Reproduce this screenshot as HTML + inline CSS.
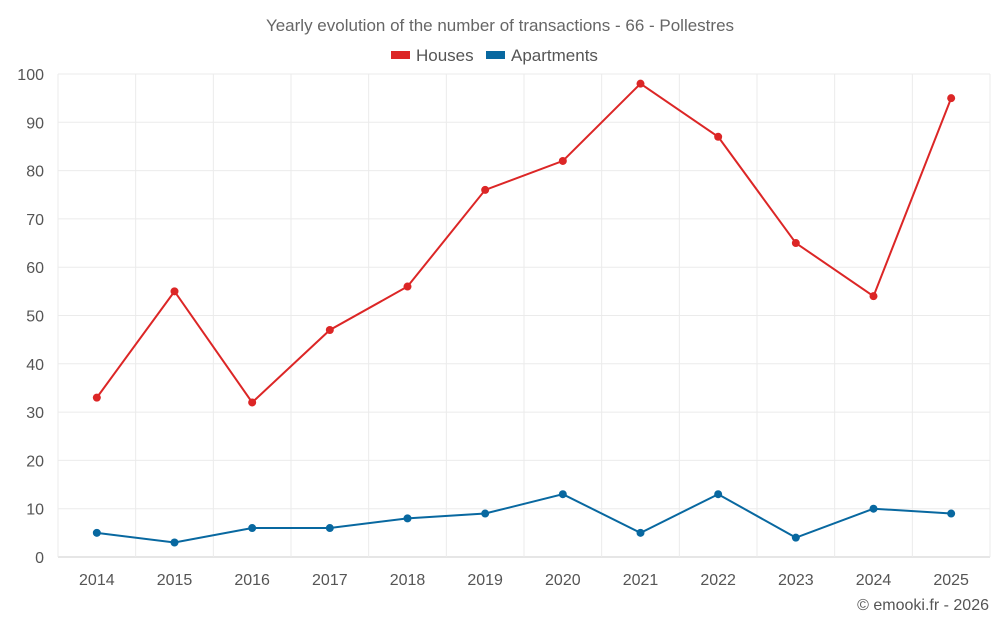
<!DOCTYPE html>
<html><head><meta charset="utf-8"><style>
body{margin:0;background:#fff;font-family:"Liberation Sans",sans-serif;}
svg{display:block}
</style></head><body>
<svg id="chart" width="1000" height="625">
<text x="500" y="31" text-anchor="middle" font-size="17" fill="#666">Yearly evolution of the number of transactions - 66 - Pollestres</text>
<g>
<rect x="391" y="51" width="19" height="8" fill="#dc2626"/>
<text x="416" y="61" font-size="17" fill="#555">Houses</text>
<rect x="486" y="51" width="19" height="8" fill="#0868a0"/>
<text x="511" y="61" font-size="17" fill="#555">Apartments</text>
</g>
<g id="grid"></g><g id="axes"></g><g id="series"></g>
<text x="989" y="610" text-anchor="end" font-size="16" fill="#555">© emooki.fr - 2026</text>
</svg>
<script>
const years=["2014","2015","2016","2017","2018","2019","2020","2021","2022","2023","2024","2025"];
const houses=[33,55,32,47,56,76,82,98,87,65,54,95];
const apartments=[5,3,6,6,8,9,13,5,13,4,10,9];
const yTicks=[0,10,20,30,40,50,60,70,80,90,100];
const L=58,R=990,T=74,B=557,yMax=100;
const bw=(R-L)/years.length;
const x=i=>L+bw*(i+0.5);
const y=v=>B-(v/yMax)*(B-T);
const NS="http://www.w3.org/2000/svg";
function mk(tag,attrs,parent){const e=document.createElementNS(NS,tag);for(const k in attrs)e.setAttribute(k,attrs[k]);parent.appendChild(e);return e;}
const grid=document.getElementById('grid'),axes=document.getElementById('axes'),ser=document.getElementById('series');
yTicks.forEach(t=>{
 const l=mk('line',{x1:L,x2:R,y1:y(t),y2:y(t),stroke:t===0?'#ccc':'#ebebeb','stroke-width':1},grid);
 
 
 const tx=mk('text',{x:44,y:y(t)+6,'text-anchor':'end','font-size':16,fill:'#555'},axes);
 tx.textContent=t;
 
 
});
for(let i=0;i<=years.length;i++){
 const l=mk('line',{x1:L+bw*i,x2:L+bw*i,y1:T,y2:B,stroke:'#ebebeb','stroke-width':1},grid);
 
 
}
years.forEach((yr,i)=>{
 const tx=mk('text',{x:x(i),y:585,'text-anchor':'middle','font-size':16,fill:'#555'},axes);
 tx.textContent=yr;
 
 
});
function draw(vals,color,name){
 const p=mk('polyline',{points:vals.map((v,i)=>x(i)+','+y(v)).join(' '),fill:'none',stroke:color,'stroke-width':2},ser);
 
 
 vals.forEach((v,i)=>{
  const c=mk('circle',{cx:x(i),cy:y(v),r:4,fill:color},ser);
  
  
 });
}
draw(houses,'#dc2626','houses');
draw(apartments,'#0868a0','apartments');
</script>
</body></html>
